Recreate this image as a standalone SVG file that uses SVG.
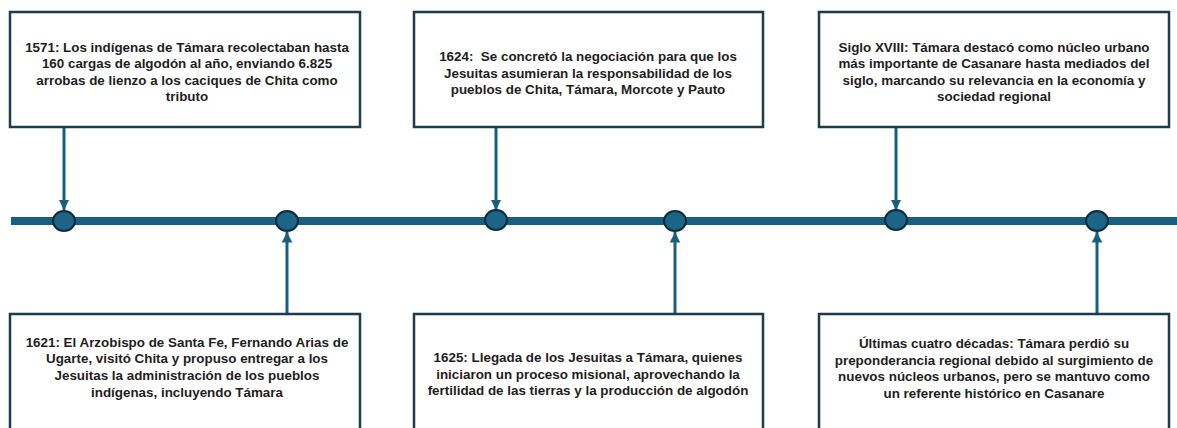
<svg xmlns="http://www.w3.org/2000/svg" width="1177" height="428" viewBox="0 0 1177 428">
<style>
.box{fill:#fff;stroke:#1c3b4b;stroke-width:2.5}
.t{font-family:"Liberation Sans",Arial,sans-serif;font-weight:bold;font-size:13.4px;fill:#1e1e1e;text-anchor:middle}
.conn{stroke:#1b5f80;stroke-width:3;fill:none}
.dot{fill:#1d6587;stroke:#0e2b3a;stroke-width:2}
</style>
<defs>
<marker id="ah" viewBox="0 0 10 10" refX="10" refY="5" markerWidth="3.5" markerHeight="3.5" orient="auto" markerUnits="strokeWidth">
<path d="M0,0 L10,5 L0,10 z" fill="#1b5f80"/>
</marker>
</defs>
<rect width="1177" height="428" fill="#fff"/>
<g id="timeline">
<line x1="11" y1="221" x2="1177" y2="221" stroke="#1b5f80" stroke-width="8"/>
</g>
<g id="connectors">
<line class="conn" x1="64" y1="128" x2="64" y2="210" marker-end="url(#ah)"/>
<line class="conn" x1="496" y1="128" x2="496" y2="210" marker-end="url(#ah)"/>
<line class="conn" x1="896" y1="128" x2="896" y2="210" marker-end="url(#ah)"/>
<line class="conn" x1="287" y1="313" x2="287" y2="232" marker-end="url(#ah)"/>
<line class="conn" x1="675" y1="313" x2="675" y2="232" marker-end="url(#ah)"/>
<line class="conn" x1="1097" y1="313" x2="1097" y2="232" marker-end="url(#ah)"/>
</g>
<g id="dots">
<ellipse class="dot" cx="64" cy="221" rx="11" ry="10"/>
<ellipse class="dot" cx="287" cy="221" rx="11" ry="10"/>
<ellipse class="dot" cx="496" cy="220" rx="11" ry="10"/>
<ellipse class="dot" cx="675" cy="221" rx="11" ry="10"/>
<ellipse class="dot" cx="896" cy="220" rx="11" ry="10"/>
<ellipse class="dot" cx="1097" cy="221" rx="11" ry="10"/>
</g>
<g id="e1571">
<rect class="box" x="10" y="12" width="350" height="115"/>
<text class="t" x="187" y="52">1571: Los indígenas de Támara recolectaban hasta</text>
<text class="t" x="187" y="68">160 cargas de algodón al año, enviando 6.825</text>
<text class="t" x="187" y="85">arrobas de lienzo a los caciques de Chita como</text>
<text class="t" x="187" y="101">tributo</text>
</g>
<g id="e1624">
<rect class="box" x="414" y="12" width="349" height="115"/>
<text class="t" x="588" y="61">1624:&#160; Se concretó la negociación para que los</text>
<text class="t" x="588" y="78">Jesuitas asumieran la responsabilidad de los</text>
<text class="t" x="588" y="94">pueblos de Chita, Támara, Morcote y Pauto</text>
</g>
<g id="e1700">
<rect class="box" x="819" y="12" width="350" height="115"/>
<text class="t" x="994" y="52">Siglo XVIII: Támara destacó como núcleo urbano</text>
<text class="t" x="994" y="68">más importante de Casanare hasta mediados del</text>
<text class="t" x="994" y="85">siglo, marcando su relevancia en la economía y</text>
<text class="t" x="994" y="101">sociedad regional</text>
</g>
<g id="e1621">
<rect class="box" x="10" y="314" width="350" height="118"/>
<text class="t" x="187" y="347">1621: El Arzobispo de Santa Fe, Fernando Arias de</text>
<text class="t" x="187" y="363">Ugarte, visitó Chita y propuso entregar a los</text>
<text class="t" x="187" y="380">Jesuitas la administración de los pueblos</text>
<text class="t" x="187" y="397">indígenas, incluyendo Támara</text>
</g>
<g id="e1625">
<rect class="box" x="414" y="314" width="349" height="118"/>
<text class="t" x="588" y="362">1625: Llegada de los Jesuitas a Támara, quienes</text>
<text class="t" x="588" y="379">iniciaron un proceso misional, aprovechando la</text>
<text class="t" x="588" y="395">fertilidad de las tierras y la producción de algodón</text>
</g>
<g id="eultimas">
<rect class="box" x="819" y="314" width="350" height="118"/>
<text class="t" x="994" y="348">Últimas cuatro décadas: Támara perdió su</text>
<text class="t" x="994" y="365">preponderancia regional debido al surgimiento de</text>
<text class="t" x="994" y="381">nuevos núcleos urbanos, pero se mantuvo como</text>
<text class="t" x="994" y="398">un referente histórico en Casanare</text>
</g>
</svg>
